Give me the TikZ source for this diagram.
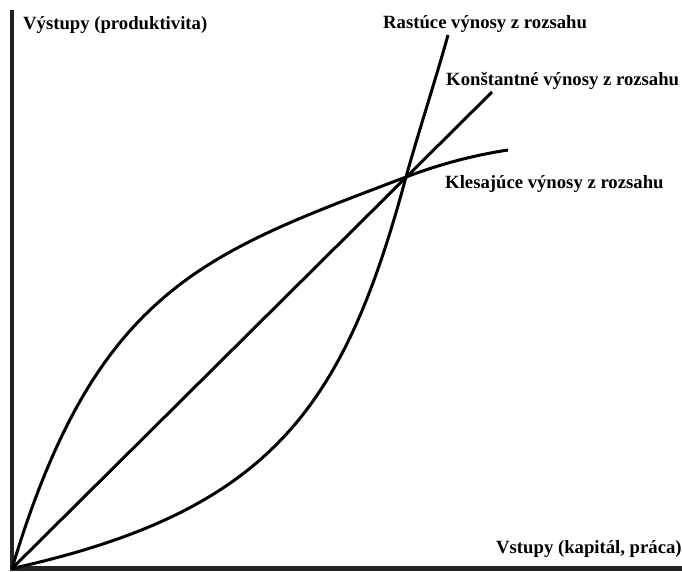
\documentclass[tikz,border=0pt]{standalone}
\usepackage{fontspec}
\setmainfont{Liberation Serif}
\begin{document}
\begin{tikzpicture}[x={(1pt,0)}, y={(0,-1pt)},
  axisline/.style={line width=4.5pt, draw=black!86},
  curve/.style={line width=3pt, draw=black},
  lbl/.style={font=\fontsize{18.7}{22}\selectfont\bfseries, inner sep=0pt, anchor=base west}]
  \useasboundingbox (0,0) rectangle (682,571);

  % axes
  \coordinate (top) at (12,10);
  \coordinate (O) at (12,568.5);
  \coordinate (right) at (682,568.5);
  \draw[axisline] (top) -- (12,571);
  \draw[axisline] (9.75,568.5) -- (right);

  % common point of the three curves
  \coordinate (P) at (406,177);

  % constant returns to scale
  \coordinate (cEnd) at (492,92);
  \draw[curve] (O) -- (cEnd);

  % increasing returns to scale
  \coordinate (iEnd) at (448,35);
  \draw[curve] (O) .. controls (272,511) and (344,407) .. (P)
                   .. controls (417,137) and (437,75) .. (iEnd);

  % decreasing returns to scale
  \coordinate (dEnd) at (508,150);
  \draw[curve] (O) .. controls (96,288) and (206,253) .. (P)
                   .. controls (440,164) and (475,155) .. (dEnd);

  % labels
  \node[lbl] (ylab) at (23,29) {Výstupy (produktivita)};
  \node[lbl] (xlab) at (496,553) {Vstupy (kapitál, práca)};
  \node[lbl] (irs) at (383,28.5) {Rastúce výnosy z rozsahu};
  \node[lbl] (crs) at (446,85) {Konštantné výnosy z rozsahu};
  \node[lbl] (drs) at (445,188) {Klesajúce výnosy z rozsahu};
\end{tikzpicture}
\end{document}
